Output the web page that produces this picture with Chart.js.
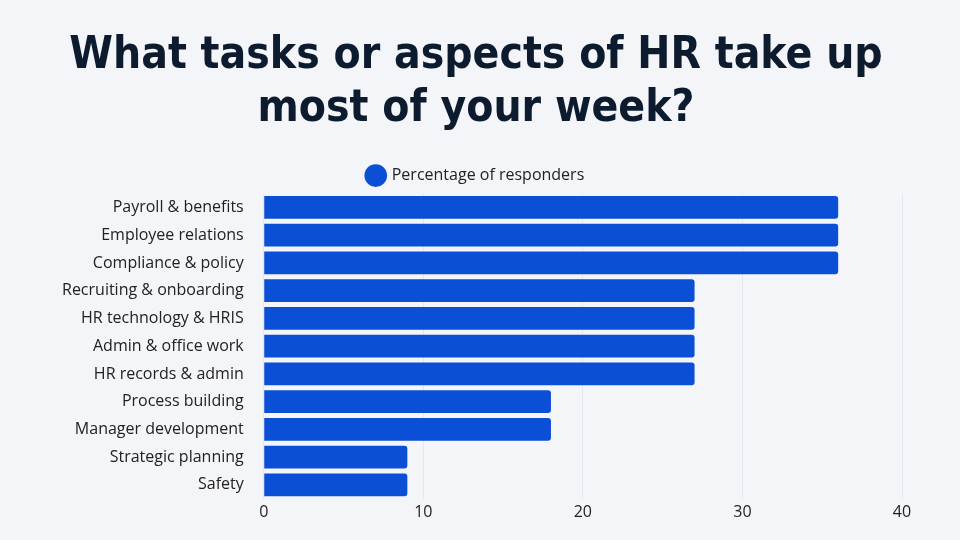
<!DOCTYPE html>
<html>
<head>
<meta charset="utf-8">
<script src="https://cdn.jsdelivr.net/npm/chart.js@4"></script>
<style>
  html, body { margin: 0; padding: 0; background: #f4f5f9; }
  #wrap { width: 960px; height: 540px; }
</style>
</head>
<body>
<div id="wrap"><canvas id="chart" width="960" height="540"></canvas></div>
<script>
const categories = ['Payroll & benefits', 'Employee relations', 'Compliance & policy',
  'Recruiting & onboarding', 'HR technology & HRIS', 'Admin & office work',
  'HR records & admin', 'Process building', 'Manager development',
  'Strategic planning', 'Safety'];
const percentages = [36, 36, 36, 27, 27, 27, 27, 18, 18, 9, 9];
const xTicks = [0, 10, 20, 30, 40];

const ctx = document.getElementById('chart').getContext('2d');
new Chart(ctx, {
  type: 'bar',
  data: {
    labels: categories,
    datasets: [{
      label: 'Percentage of responders',
      data: percentages,
      backgroundColor: '#0b4fd6',
      borderRadius: 3,
      barPercentage: 0.82,
      categoryPercentage: 1
    }]
  },
  options: {
    indexAxis: 'y',
    responsive: false,
    animation: false,
    layout: { padding: { left: 50, right: 58, top: 30, bottom: 14 } },
    plugins: {
      title: {
        display: true,
        text: ['What tasks or aspects of HR take up', 'most of your week?'],
        color: '#0d1b2e',
        font: { family: 'DejaVu Sans Condensed', size: 44, weight: 'bold' },
        padding: { bottom: 22 }
      },
      legend: {
        labels: {
          usePointStyle: true,
          pointStyle: 'circle',
          boxWidth: 16, boxHeight: 16,
          color: '#222',
          font: { family: 'Open Sans', size: 16 }
        }
      },
      tooltip: { enabled: false }
    },
    scales: {
      x: {
        min: 0, max: 40,
        afterBuildTicks: s => { s.ticks = xTicks.map(v => ({ value: v })); },
        grid: { color: '#e6e7ec', drawTicks: false },
        border: { display: false },
        ticks: { color: '#222', font: { family: 'Open Sans', size: 16 }, padding: 4 }
      },
      y: {
        grid: { display: false },
        border: { display: false },
        ticks: { color: '#222', font: { family: 'Open Sans', size: 16 }, padding: 12 }
      }
    }
  }
});
</script>
</body>
</html>
